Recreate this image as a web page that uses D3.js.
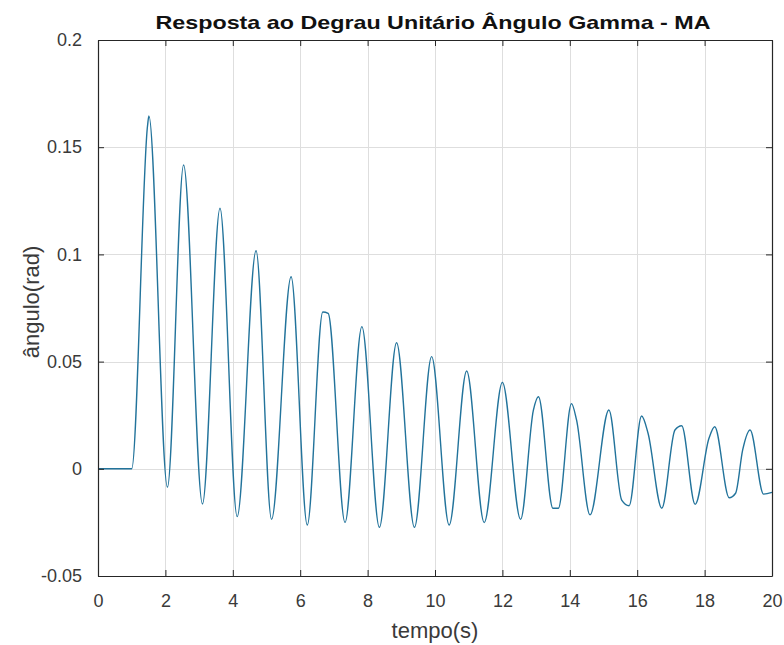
<!DOCTYPE html>
<html>
<head>
<meta charset="utf-8">
<script src="https://cdn.jsdelivr.net/npm/d3@7"></script>
<style>
  html, body { margin: 0; padding: 0; background: #fff; }
  svg { display: block; font-family: "Liberation Sans", Arial, sans-serif; }
</style>
</head>
<body>
<svg id="chart" width="784" height="645"></svg>
<script>
// ---- data ----
const title = "Resposta ao Degrau Unitário Ângulo Gamma - MA";
const xLabel = "tempo(s)";
const yLabel = "ângulo(rad)";
const xTicks = [0, 2, 4, 6, 8, 10, 12, 14, 16, 18, 20];
const yTicks = [-0.05, 0, 0.05, 0.1, 0.15, 0.2];
const yTickLabels = ["-0.05", "0", "0.05", "0.1", "0.15", "0.2"];

const tempo = [
  0, 1.0, 1.47, 1.51, 2.06, 2.54, 3.10, 3.62, 4.13, 4.69, 5.15, 5.73, 6.21,
  6.67, 6.83, 7.33, 7.83, 8.35, 8.86, 9.39, 9.90, 10.42, 10.94, 11.46, 12.00,
  12.54, 12.92, 13.07, 13.50, 13.66, 14.05, 14.20, 14.60, 15.16, 15.54, 15.76,
  16.13, 16.32, 16.73, 17.12, 17.32, 17.72, 18.13, 18.30, 18.73, 18.92, 19.13,
  19.35, 19.75, 20.0
];
const angulo = [
  0, 0, 0.1600, 0.1646, -0.0086, 0.1417, -0.0164, 0.1215, -0.0223, 0.1017, -0.0236, 0.0896, -0.0262,
  0.0731, 0.0725, -0.0251, 0.0663, -0.0273, 0.0588, -0.0273, 0.0523, -0.0262, 0.0456, -0.0251, 0.0403,
  -0.0236, 0.0274, 0.0336, -0.0184, -0.0184, 0.0304, 0.0228, -0.0215, 0.0274, -0.0146, -0.0172,
  0.0246, 0.0167, -0.0184, 0.0181, 0.0201, -0.0166, 0.0142, 0.0196, -0.0135, -0.0114, 0.0088,
  0.0181, -0.0118, -0.0110
];

// ---- layout ----
const svg = d3.select("#chart");
const L = 98, R = 772, T = 40, B = 576;
const x = d3.scaleLinear().domain([0, 20]).range([L, R]);
const y = d3.scaleLinear().domain([-0.05, 0.2]).range([B, T]);
const axisColor = "#262626";

// grid
const grid = svg.append("g");
grid.selectAll("line.gx").data(xTicks.slice(1, -1)).enter().append("line")
  .attr("x1", d => Math.round(x(d)) + 0.5).attr("x2", d => Math.round(x(d)) + 0.5)
  .attr("y1", T).attr("y2", B)
  .attr("stroke", "#dedede").attr("stroke-width", 1);
grid.selectAll("line.gy").data(yTicks.slice(1, -1)).enter().append("line")
  .attr("y1", d => Math.round(y(d)) + 0.5).attr("y2", d => Math.round(y(d)) + 0.5)
  .attr("x1", L).attr("x2", R)
  .attr("stroke", "#dedede").attr("stroke-width", 1);

// data line
const line = d3.line().x((d, i) => x(tempo[i])).y(d => y(d)).curve(d3.curveMonotoneX);
svg.append("path").datum(angulo)
  .attr("d", line)
  .attr("fill", "none")
  .attr("stroke", "#22739b")
  .attr("stroke-width", 1.4)
  .attr("stroke-linejoin", "round");

// axes (inward ticks, box with ticks on all sides)
const tickLen = 6;
const fontTick = 18;
const xAxisB = d3.axisBottom(x).tickValues(xTicks).tickSizeInner(-tickLen).tickSizeOuter(0)
  .tickPadding(tickLen + 12).tickFormat(d3.format("d"));
const gxB = svg.append("g").attr("transform", `translate(0,${B})`).call(xAxisB);
const xAxisT = d3.axisTop(x).tickValues(xTicks).tickSizeInner(-tickLen).tickSizeOuter(0).tickFormat("");
const gxT = svg.append("g").attr("transform", `translate(0,${T})`).call(xAxisT);
const yAxisL = d3.axisLeft(y).tickValues(yTicks).tickSizeInner(-tickLen).tickSizeOuter(0)
  .tickPadding(tickLen + 10).tickFormat((d, i) => yTickLabels[i]);
const gyL = svg.append("g").attr("transform", `translate(${L},0)`).call(yAxisL);
const yAxisR = d3.axisRight(y).tickValues(yTicks).tickSizeInner(-tickLen).tickSizeOuter(0).tickFormat("");
const gyR = svg.append("g").attr("transform", `translate(${R},0)`).call(yAxisR);

[gxB, gxT, gyL, gyR].forEach(g => {
  g.select(".domain").attr("stroke", axisColor).attr("stroke-width", 1.2);
  g.selectAll(".tick line").attr("stroke", axisColor).attr("stroke-width", 1);
  g.selectAll(".tick text").attr("fill", "#3a3a3a")
    .style("font-size", fontTick + "px")
    .style("font-family", "'Liberation Sans', Arial, sans-serif");
});

// title
svg.append("text")
  .attr("x", (L + R) / 2 - 2).attr("y", 29)
  .attr("text-anchor", "middle")
  .attr("font-weight", "bold")
  .attr("font-size", 19)
  .attr("fill", "#111")
  .attr("textLength", 555)
  .attr("lengthAdjust", "spacingAndGlyphs")
  .text(title);

// x label
svg.append("text")
  .attr("x", (L + R) / 2).attr("y", 638)
  .attr("text-anchor", "middle")
  .attr("font-size", 22)
  .attr("fill", "#3a3a3a")
  .text(xLabel);

// y label
svg.append("text")
  .attr("transform", `translate(39,${(T + B) / 2 - 6}) rotate(-90)`)
  .attr("text-anchor", "middle")
  .attr("font-size", 22)
  .attr("fill", "#3a3a3a")
  .text(yLabel);
</script>
</body>
</html>
